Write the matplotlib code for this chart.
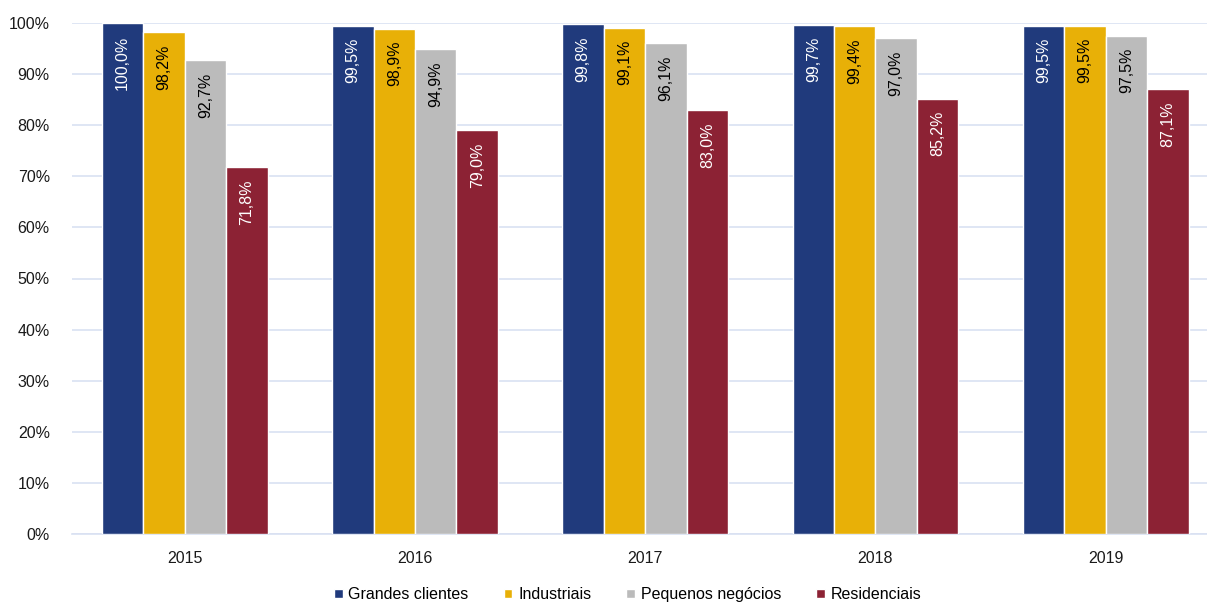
import matplotlib
matplotlib.use("Agg")
import matplotlib.pyplot as plt
import numpy as np

plt.rcParams['font.family'] = ['Liberation Sans', 'DejaVu Sans']

years = ["2015", "2016", "2017", "2018", "2019"]
series_names = ["Grandes clientes", "Industriais", "Pequenos negócios", "Residenciais"]
grandes = [100.0, 99.5, 99.8, 99.7, 99.5]
industriais = [98.2, 98.9, 99.1, 99.4, 99.5]
pequenos = [92.7, 94.9, 96.1, 97.0, 97.5]
residenciais = [71.8, 79.0, 83.0, 85.2, 87.1]
yticks = [0, 10, 20, 30, 40, 50, 60, 70, 80, 90, 100]

colors = ["#203A7C", "#E8B007", "#BBBBBB", "#8C2234"]
label_colors = ["white", "black", "black", "white"]
series = [grandes, industriais, pequenos, residenciais]

fig = plt.figure(figsize=(12.07, 6.02), dpi=100)
ax = fig.add_axes([72/1207, 1-534/602, 1-72/1207, 511/602])

x = np.arange(len(years))
w = 0.18
for i, (vals, c, lc, name) in enumerate(zip(series, colors, label_colors, series_names)):
    pos = x + (i - 1.5) * w
    ax.bar(pos, vals, width=w, color=c, edgecolor="white", linewidth=1.0, label=name, zorder=3)
    for p, v in zip(pos, vals):
        txt = f"{v:.1f}%".replace(".", ",")
        ax.text(p, v - 2.4, txt, rotation=90, ha="center", va="top",
                color=lc, fontsize=11.5, zorder=4)

ax.set_xlim(-0.49, 4.44)
ax.set_ylim(0, 100)
ax.set_yticks(yticks)
ax.set_yticklabels([f"{t}%" for t in yticks], fontsize=11.5)
ax.set_xticks(x)
ax.set_xticklabels(years, fontsize=11.5)
ax.tick_params(axis="both", length=0, colors="#1a1a1a")
ax.tick_params(axis="y", pad=16)
ax.tick_params(axis="x", pad=12)
ax.grid(axis="y", color="#D9E1F2", linewidth=1.2, zorder=0)
for s in ["top", "right", "left"]:
    ax.spines[s].set_visible(False)
ax.spines["bottom"].set_color("#D9E1F2")
ax.spines["bottom"].set_linewidth(1.2)

leg = fig.legend(loc="lower center", bbox_to_anchor=(0.52, -0.024), ncol=4, frameon=False,
                 fontsize=11.5, handlelength=0.55, handleheight=0.55, handletextpad=0.35,
                 columnspacing=2.2)

fig.savefig("out.png", dpi=100)
